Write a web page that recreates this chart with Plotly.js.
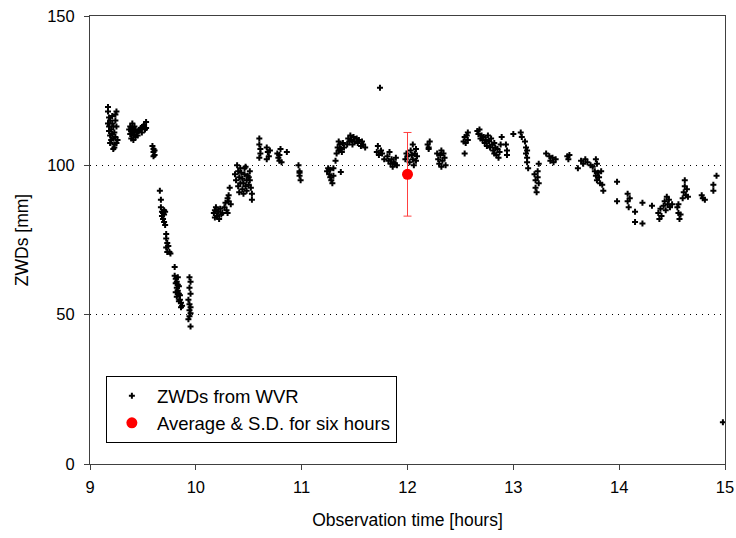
<!DOCTYPE html>
<html>
<head>
<meta charset="utf-8">
<script src="https://cdn.plot.ly/plotly-3.0.1.min.js"></script>
<style>html,body{margin:0;padding:0;background:#fff;}#chart{width:736px;height:538px;}</style>
</head>
<body>
<div id="chart"></div>
<script>
// Observation time [hours], ZWD [mm] pairs
const wvrTime = [
9.17,9.17,9.18,9.17,9.18,9.19,9.18,9.19,9.20,9.20,9.21,9.21,9.22,9.22,9.23,9.23,9.24,9.24,9.25,9.25,9.24,9.25,9.23,9.22,9.26,9.19,9.21,
9.37,9.38,9.38,9.39,9.39,9.40,9.40,9.41,9.41,9.42,9.42,9.43,9.43,9.44,9.45,9.46,9.47,9.48,9.49,9.50,9.51,9.52,9.53,9.53,
9.59,9.60,9.60,9.61,9.60,9.61,
9.66,9.67,9.67,9.68,9.68,9.69,9.69,9.70,9.70,9.71,9.70,9.71,9.72,9.72,9.73,9.72,9.74,9.73,9.75,9.76,
9.80,9.80,9.81,9.81,9.82,9.82,9.83,9.81,9.83,9.84,9.84,9.82,9.85,9.85,9.86,9.84,9.87,9.86,9.83,
9.94,9.95,9.94,9.95,9.93,9.94,9.95,9.94,9.95,9.94,9.93,9.95,
10.17,10.18,10.19,10.18,10.20,10.21,10.22,10.23,10.24,10.25,10.27,10.28,10.29,10.30,10.31,10.31,10.32,10.33,10.30,
10.37,10.38,10.39,10.40,10.40,10.41,10.42,10.42,10.43,10.44,10.44,10.45,10.46,10.46,10.47,10.48,10.48,10.49,10.50,10.51,10.51,10.52,10.53,10.53,10.41,10.45,10.50,10.47,
10.60,10.60,10.61,10.61,10.60,10.67,10.68,10.69,10.70,10.67,10.77,10.78,10.79,10.80,10.79,10.81,10.86,
10.97,10.98,10.98,10.99,10.98,
11.25,11.24,11.26,11.27,11.27,11.28,11.29,11.30,11.30,11.32,11.37,
11.33,11.34,11.35,11.35,11.36,11.37,11.38,11.39,11.40,11.43,11.44,11.45,11.46,11.47,11.48,11.49,11.50,11.52,11.53,11.54,11.56,11.57,11.58,11.60,
11.74,
11.71,11.72,11.73,11.75,11.76,11.78,11.81,11.82,11.83,11.84,11.85,11.86,11.87,11.88,11.89,11.90,
11.98,11.99,12.00,12.02,12.03,12.04,12.05,12.05,12.06,12.07,12.08,12.08,12.09,
12.19,12.20,12.21,12.20,
12.28,12.29,12.30,12.31,12.32,12.32,12.33,12.34,12.35,12.36,
12.53,12.54,12.55,12.54,12.56,12.57,12.57,
12.66,12.67,12.68,12.69,12.70,12.71,12.72,12.73,12.74,12.75,12.76,12.77,12.78,12.79,12.80,12.81,12.82,12.82,12.83,12.84,12.85,12.86,12.87,12.88,12.89,12.93,12.94,12.94,
13.00,13.07,13.08,13.11,13.12,13.12,13.13,13.13,13.14,13.13,
13.20,13.21,13.21,13.22,13.23,13.24,13.23,13.24,
13.31,13.34,13.35,13.37,13.38,13.40,
13.51,13.52,13.53,13.61,13.64,13.66,13.68,13.70,13.73,13.75,13.78,13.79,13.77,13.78,13.79,13.80,13.81,13.82,13.83,13.84,13.85,
13.98,13.98,14.08,14.08,14.09,14.10,14.15,14.15,14.22,14.22,14.31,14.37,14.38,14.39,14.40,14.42,14.43,14.44,14.45,14.46,14.47,14.48,14.50,
14.55,14.56,14.57,14.58,14.56,14.60,14.61,14.62,14.63,14.64,14.65,14.62,14.78,14.79,14.81,14.89,14.89,14.92,14.98
];
const wvrZwd = [
119.5,118,116,114,113,115,111.5,110,112,108.5,114,110.5,113,109,107,111,117,115,118,113,109.5,107.5,106,105.5,108.5,107.5,116.5,
112,110.5,113,111.5,109,114,112.5,110,108.5,113,111,112,109.5,111,110,111.5,112,112.5,111,113,113.5,112,114.5,112.5,
106.5,105.5,104.5,103.5,103,105,
91.5,88.5,86,84.5,83,84,82,83.5,81,80,85,84.5,77,75.5,74,72.5,73,71,71,70.5,
66,63,62,60.5,61,59,58,57.5,60,59.5,57,56,56.5,55,54,54.5,53,52.5,62.5,
62.5,61,59,57,55,53.5,52.5,51.5,50.5,49.5,48.5,46,
84,82.5,86,85,83,84.5,82,85.5,83.5,84,86,87.5,85,89,88,90,92.5,87,84,
97,95,100,98,93,96,94,99,97.5,95.5,92,94,97,99,93,95,91.5,96.5,93.5,98,95,92.5,90.5,88.5,91,90.5,96,99.5,
109,107,105.5,104,102.5,106,104.5,103,105,102,104,102.5,101.5,105.5,103.5,101,104.5,
100,98,96.5,95,97.5,
99,98,97,96,98.5,95,94,96.5,99,101.5,97.8,
104,106,108,105,107,105.5,104.5,107.5,106,107,109,108,110,108.5,107,109.5,108,109,107.5,108.5,106.5,108,107,106,
126,
104.5,106.5,103.5,105,104,102,103,101.5,104.5,100.5,102,99.5,101,100.5,102.5,100,
102,104,103,101,105,103.5,107,102,100,104,105.5,101.5,103,
107,106,108,105.5,
104,102,100.5,103.5,105,99.5,101.5,104,102.5,100,
108,109.5,107.5,104,110,111,108.5,
111.5,110.5,112,109,110,108.5,109.5,107.5,108.5,106.5,110,108,106,109,107,105,104,107.5,106,103.5,105.5,102.5,104.5,107,109.5,107,105,103.5,
110.5,111,109.5,108,106,104,102.5,101,99,105,
97,95,92.5,91,98,100.5,96,94,
104,103,101.5,102.5,101,102,
103,102,103.5,99,101.5,100.5,102,101,100,99.5,102,100.5,98,96.5,95,97.5,96,94,98,93.5,91.5,
94.5,88,90.5,88,86,89,84.5,81,87.5,80.5,86.5,84,82,85.5,83,86.5,88,85,89.5,87,88.5,86,87,
86,84,82,83.5,87,89,91,93,90,92,89.5,95,90,89,88.5,91.5,93.5,96.5,14
];
const avgTime = [12];
const avgZwd = [97];
const avgSd = [14];
const yTicks = [0, 50, 100, 150];
const xTicks = [9, 10, 11, 12, 13, 14, 15];

const fam = 'Liberation Sans, Arial, sans-serif';
const tickFont = {family: fam, size: 16.5, color: '#000'};
const titleFont = {family: fam, size: 17.5, color: '#000'};
const legendFont = {family: fam, size: 18.5, color: '#000'};
const traces = [
  {x: wvrTime, y: wvrZwd, type: 'scatter', mode: 'markers', name: 'ZWDs from WVR',
   marker: {symbol: 'cross', size: 5, color: '#000'}},
  {x: avgTime, y: avgZwd, type: 'scatter', mode: 'markers', name: 'Average & S.D. for six hours',
   marker: {symbol: 'circle', size: 11, color: '#ff0000'},
   error_y: {type: 'data', array: avgSd, visible: true, color: '#ff4040', thickness: 1, width: 4}}
];
const layout = {
  width: 736, height: 538,
  margin: {l: 90, r: 11, t: 16, b: 74},
  paper_bgcolor: '#fff', plot_bgcolor: '#fff',
  font: tickFont,
  showlegend: true,
  legend: {x: 0.025, y: 0.196, xanchor: 'left', yanchor: 'top', bgcolor: '#fff',
           bordercolor: '#000', borderwidth: 1, font: legendFont, tracegroupgap: 2, itemwidth: 40},
  xaxis: {range: [9, 15], tickvals: xTicks, ticktext: xTicks.map(String), ticks: 'outside', ticklen: 5,
          tickcolor: '#404040', showline: true, linecolor: '#404040', linewidth: 1, mirror: true,
          showgrid: false, zeroline: false, tickfont: tickFont, ticklabelstandoff: 3,
          title: {text: 'Observation time [hours]', font: titleFont, standoff: 18}},
  yaxis: {range: [0, 150], tickvals: yTicks, ticktext: yTicks.map(String), ticks: 'outside', ticklen: 5,
          tickcolor: '#404040', showline: true, linecolor: '#404040', linewidth: 1, mirror: true,
          showgrid: true, gridcolor: '#000', griddash: '1px,5px', gridwidth: 1, zeroline: false, tickfont: tickFont,
          ticklabelstandoff: 6,
          title: {text: 'ZWDs [mm]', font: titleFont, standoff: 14}}
};
Plotly.newPlot('chart', traces, layout, {displayModeBar: false, staticPlot: true});
</script>
</body>
</html>
